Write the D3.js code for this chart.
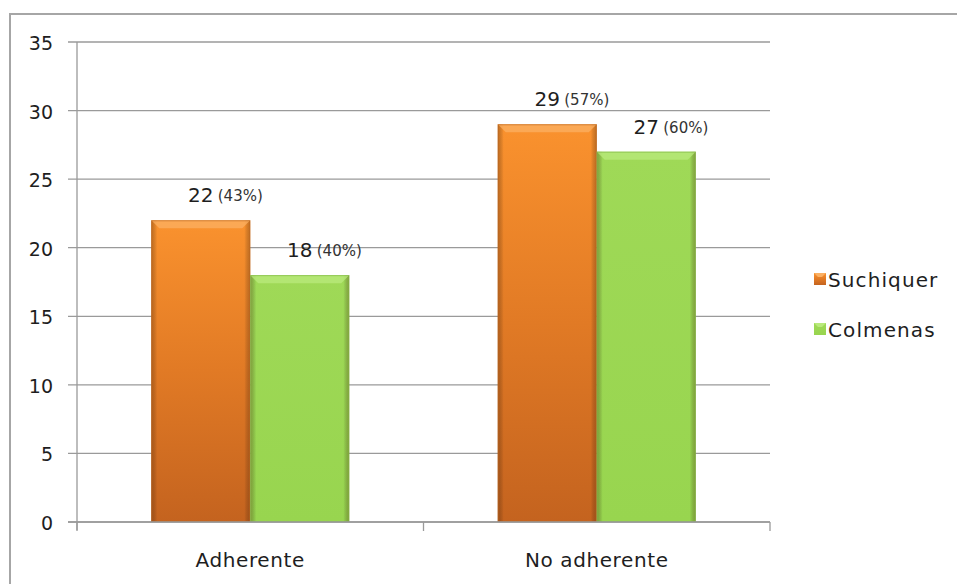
<!DOCTYPE html>
<html><head><meta charset="utf-8">
<script src="https://cdn.jsdelivr.net/npm/d3@7"></script>
<style>body{margin:0;background:#fff;} text{font-family:"DejaVu Sans",sans-serif;}</style>
</head><body><svg id="c" width="957" height="584"></svg>
<script>
const categories = ["Adherente", "No adherente"];
const seriesNames = ["Suchiquer", "Colmenas"];
const suchiquer = [22, 29];
const colmenas = [18, 27];
const suchiquerPct = ["(43%)", "(57%)"];
const colmenasPct = ["(40%)", "(60%)"];
const yTicks = [0, 5, 10, 15, 20, 25, 30, 35];

const svg = d3.select("#c");
const defs = svg.append("defs");
function grad(id, stops){
  const g = defs.append("linearGradient").attr("id", id).attr("x1",0).attr("y1",0).attr("x2",0).attr("y2",1);
  stops.forEach(s => g.append("stop").attr("offset", s[0]).attr("stop-color", s[1]));
}
grad("gO", [[0,"#fa922e"],[0.5,"#e17a25"],[1,"#c4631f"]]);
grad("gG", [[0,"#9fd957"],[1,"#98d54f"]]);
function hgrad(id, c1, c2){
  const g = defs.append("linearGradient").attr("id", id).attr("x1",0).attr("y1",0).attr("x2",1).attr("y2",0);
  g.append("stop").attr("offset",0).attr("stop-color",c1).attr("stop-opacity",0.35);
  g.append("stop").attr("offset",0.06).attr("stop-color",c2).attr("stop-opacity",0);
  g.append("stop").attr("offset",0.94).attr("stop-color",c2).attr("stop-opacity",0);
  g.append("stop").attr("offset",1).attr("stop-color",c1).attr("stop-opacity",0.35);
}
hgrad("edge", "#5a3010", "#000");

// outer border
svg.append("path").attr("d","M10,600 L10,14 L960,14").attr("fill","none").attr("stroke","#a6a6a6").attr("stroke-width",2);

const x0 = d3.scaleBand().domain(categories).range([77, 770]).paddingInner(0).paddingOuter(0);
const x1 = d3.scaleBand().domain(seriesNames).range([0, x0.bandwidth()]).paddingInner(0).paddingOuter(0.75);
const y = d3.scaleLinear().domain([0, 35]).range([522, 42]);

// grid
svg.append("g").selectAll("line").data(yTicks).join("line")
  .attr("x1", 68).attr("x2", 770).attr("y1", d=>y(d)).attr("y2", d=>y(d))
  .attr("stroke", "#9a9a9a").attr("stroke-width", 1.3);

// y axis line
svg.append("line").attr("x1",77).attr("x2",77).attr("y1",42).attr("y2",530).attr("stroke","#9a9a9a").attr("stroke-width",1.3);

// y labels
svg.append("g").selectAll("text").data(yTicks).join("text")
  .attr("x", 53).attr("y", d=>y(d)+8).attr("text-anchor","end")
  .attr("font-size", 19).attr("fill","#1e1e1e").text(d=>d);

const data = categories.map((c,i)=>({cat:c, vals:[{s:seriesNames[0], v:suchiquer[i], p:suchiquerPct[i]},{s:seriesNames[1], v:colmenas[i], p:colmenasPct[i]}]}));

const fills = {"Suchiquer":"url(#gO)", "Colmenas":"url(#gG)"};
const tops = {"Suchiquer":"#fbb063", "Colmenas":"#b9ea7c"};
const strokes = {"Suchiquer":"#b9651f", "Colmenas":"#7fb545"};

const gBars = svg.append("g");
data.forEach(d=>{
  d.vals.forEach(b=>{
    const bx = x0(d.cat) + x1(b.s), bw = x1.bandwidth(), by = y(b.v), bh = y(0)-y(b.v);
    gBars.append("rect").attr("x",bx).attr("y",by).attr("width",bw).attr("height",bh)
      .attr("fill",fills[b.s]);
    gBars.append("rect").attr("x",bx).attr("y",by).attr("width",bw).attr("height",bh)
      .attr("fill","url(#edge)");
    const bev = 8;
    gBars.append("path").attr("d",`M${bx},${by} L${bx+bw},${by} L${bx+bw-bev},${by+bev} L${bx+bev},${by+bev} Z`)
      .attr("fill",tops[b.s]).attr("opacity",0.75);
    gBars.append("rect").attr("x",bx+0.5).attr("y",by+0.5).attr("width",bw-1).attr("height",bh-1)
      .attr("fill","none").attr("stroke",strokes[b.s]).attr("stroke-opacity",0.6).attr("stroke-width",1);
    const cx = bx + bw/2;
    gBars.append("text").attr("x",cx).attr("y",by-18).attr("text-anchor","middle")
      .attr("font-size",20).attr("fill","#1e1e1e").text(b.v);
    gBars.append("text").attr("x",cx+17).attr("y",by-19).attr("text-anchor","start")
      .attr("font-size",15).attr("fill","#333").text(b.p);
  });
});

// x axis baseline and ticks
svg.append("line").attr("x1",68).attr("x2",770).attr("y1",y(0)).attr("y2",y(0)).attr("stroke","#9a9a9a").attr("stroke-width",1.5);
const xt = [77, 77 + x0.bandwidth(), 770];
svg.append("g").selectAll("line").data(xt).join("line")
  .attr("x1",d=>d).attr("x2",d=>d).attr("y1",y(0)).attr("y2",y(0)+9).attr("stroke","#9a9a9a").attr("stroke-width",1.3);

svg.append("g").selectAll("text").data(categories).join("text")
  .attr("x", d=>x0(d)+x0.bandwidth()/2).attr("y", 567).attr("text-anchor","middle")
  .attr("font-size",20).attr("letter-spacing",0.6).attr("fill","#1e1e1e").text(d=>d);

// legend
const lg = svg.append("g");
seriesNames.forEach((s,i)=>{
  const ly = 280 + i*50;
  lg.append("rect").attr("x",814).attr("y",ly-7).attr("width",12).attr("height",12).attr("fill",fills[s]);
  lg.append("path").attr("d",`M814,${ly-7} L826,${ly-7} L822,${ly-3} L818,${ly-3} Z`).attr("fill",tops[s]);
  lg.append("text").attr("x",828).attr("y",ly+7).attr("font-size",20).attr("letter-spacing",1.1).attr("fill","#1e1e1e").text(s);
});
</script></body></html>
